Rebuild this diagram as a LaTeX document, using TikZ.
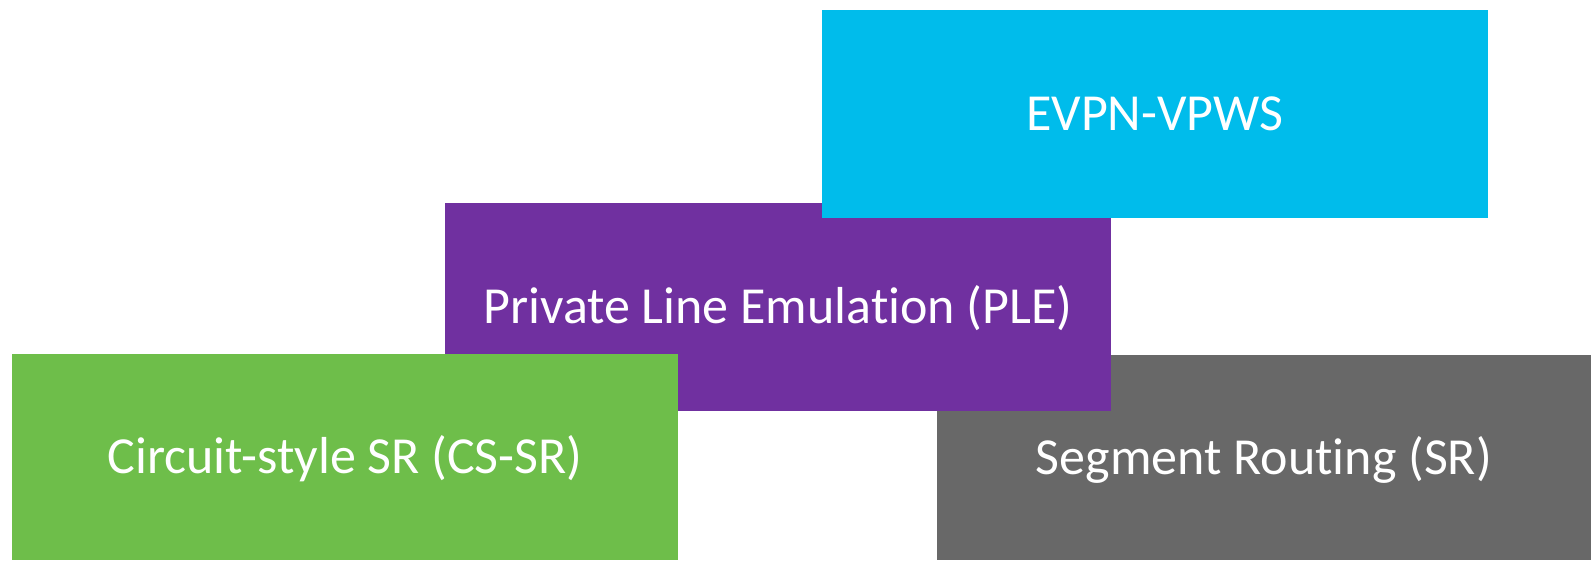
\documentclass[tikz,border=0pt]{standalone}
\usepackage{fontspec}
\setmainfont{Carlito}[Ligatures={NoCommon}]
\definecolor{evpnblue}{HTML}{00BCEB}
\definecolor{plepurple}{HTML}{7030A0}
\definecolor{csgreen}{HTML}{6EBE4A}
\definecolor{srgray}{HTML}{686868}
\begin{document}
\begin{tikzpicture}[x=1pt,y=-1pt,
  block/.style={rectangle, inner sep=0pt, outer sep=0pt, text=white,
    font=\fontsize{52}{60}\selectfont, anchor=center,
    text height=33pt, text depth=0pt}]
\useasboundingbox (0,0) rectangle (1591,560);
% layers drawn from back to front
\node[block, fill=srgray, minimum width=654pt, minimum height=205pt] (sr) at (1264,457.5) {Segment Routing (SR)};
\node[block, fill=plepurple, minimum width=666pt, minimum height=208pt] (ple) at (778,307) {Private Line Emulation (PLE)};
\node[block, fill=csgreen, minimum width=666pt, minimum height=206pt] (cssr) at (345,457) {Circuit-style SR (CS-SR)};
\node[block, fill=evpnblue, minimum width=666pt, minimum height=208pt] (evpn) at (1155,114) {EVPN-VPWS};
\end{tikzpicture}
\end{document}
